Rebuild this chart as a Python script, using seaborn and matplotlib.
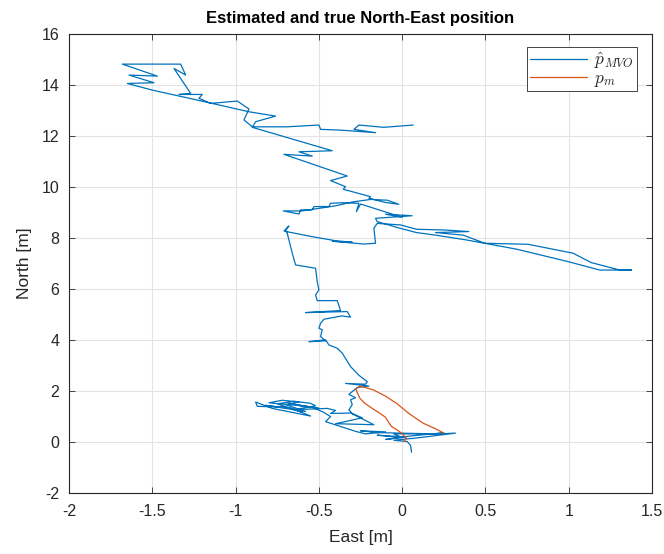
import numpy as np
import pandas as pd
import matplotlib
matplotlib.use("Agg")
import matplotlib.pyplot as plt
import seaborn as sns

# Estimated trajectory (p_hat_MVO): East / North in metres
est_east = [0.056, 0.05, 0.03, -0.05, 0.10, 0.32, 0.15, 0.25, 0.05, -0.10, 0.02, -0.15, 0.0, -0.05,
            0.20, -0.15, -0.25, -0.10, -0.22, -0.28,
            -0.43, -0.46, -0.43, -0.47, -0.54,
            -0.62, -0.50, -0.68, -0.60, -0.80, -0.72, -0.62, -0.70, -0.58, -0.82, -0.66, -0.55, -0.78,
            -0.88, -0.87, -0.70, -0.60, -0.75, -0.65, -0.55, -0.52, -0.65, -0.45, -0.40, -0.43,
            -0.31, -0.17, -0.40, -0.24, -0.30, -0.32, -0.30, -0.31, -0.28, -0.32, -0.27, -0.20, -0.34,
            -0.22, -0.21, -0.26, -0.31, -0.36, -0.39, -0.44, -0.46, -0.56, -0.46, -0.49, -0.48, -0.50,
            -0.49, -0.47, -0.36, -0.31, -0.33, -0.58, -0.37, -0.39, -0.51, -0.52, -0.50, -0.51, -0.52,
            -0.64, -0.66, -0.69, -0.70, -0.68, -0.71, -0.55, -0.40, -0.30, -0.42, -0.23, -0.16, -0.17,
            -0.15, -0.01, 0.086, 0.256, 0.40, 0.20, 0.366, 0.496, 0.756, 1.026, 1.136, 1.306, 1.376,
            1.186, 0.996, 0.686, 0.526, 0.386, 0.20, 0.086, -0.014, -0.15, -0.16, 0.06, -0.10, 0.0,
            -0.25, -0.275, -0.26, -0.36, -0.43, -0.44, -0.53, -0.54, -0.61, -0.62, -0.714, -0.60, -0.50,
            -0.40, -0.30, -0.19, -0.09, -0.02, -0.10, -0.20, -0.19, -0.354, -0.34, -0.43, -0.33, -0.71,
            -0.54, -0.62, -0.42, -0.90, -0.88, -0.76, -0.92, -1.21, -1.50, -1.65, -1.49, -1.64, -1.47,
            -1.68, -1.33, -1.30, -1.37, -1.27, -1.34, -1.20, -1.22, -1.15, -0.99, -0.92, -0.95, -0.90,
            -0.69, -0.50, -0.49, -0.37, -0.16, -0.29, -0.26, -0.11, 0.066]
est_north = [-0.42, -0.15, 0.0, 0.05, 0.15, 0.33, 0.28, 0.34, 0.22, 0.08, 0.18, 0.25, 0.15, 0.30,
             0.30, 0.35, 0.42, 0.38, 0.30, 0.40,
             0.72, 0.78, 0.98, 1.14, 1.35,
             1.42, 1.30, 1.50, 1.40, 1.52, 1.62, 1.55, 1.45, 1.18, 1.42, 1.30, 1.00, 1.30,
             1.55, 1.38, 1.35, 1.15, 1.48, 1.58, 1.50, 1.40, 1.25, 1.30, 1.22, 1.10,
             1.12, 0.66, 0.70, 0.93, 1.10, 1.24, 1.45, 1.64, 1.72, 1.85, 2.12, 2.18, 2.28,
             2.25, 2.35, 2.60, 2.94, 3.47, 3.66, 3.79, 3.99, 3.92, 3.95, 4.12, 4.38, 4.45,
             4.64, 4.80, 4.93, 4.88, 5.10, 5.06, 5.14, 5.53, 5.53, 5.75, 5.95, 6.27, 6.80,
             6.93, 7.39, 8.17, 8.30, 8.46, 8.26, 8.05, 7.88, 7.82, 7.86, 7.75, 7.78, 8.37,
             8.56, 8.50, 8.33, 8.30, 8.24, 8.20, 8.10, 7.78, 7.74, 7.39, 7.02, 6.73, 6.73,
             6.73, 7.06, 7.55, 7.74, 7.91, 8.10, 8.20, 8.37, 8.63, 8.76, 8.86, 8.92, 8.80,
             9.32, 9.02, 9.35, 9.37, 9.35, 9.22, 9.22, 9.09, 9.09, 8.93, 9.05, 9.05, 9.15,
             9.25, 9.40, 9.50, 9.47, 9.31, 9.38, 9.55, 9.61, 9.90, 10.00, 10.24, 10.42, 11.27,
             11.20, 11.37, 11.41, 12.33, 12.55, 12.77, 12.94, 13.37, 13.79, 14.05, 14.08, 14.38, 14.34,
             14.81, 14.81, 14.38, 14.64, 13.66, 13.62, 13.62, 13.47, 13.27, 13.36, 13.05, 12.62, 12.35,
             12.35, 12.42, 12.25, 12.22, 12.12, 12.25, 12.42, 12.33, 12.42]

# Measured / true positions (p_m)
true_east = [0.25, 0.20, 0.126, 0.04, -0.034, -0.10, -0.174, -0.254, -0.278, -0.265, -0.254,
             -0.224, -0.18, -0.134, -0.10, -0.078, -0.064, -0.03, -0.004, 0.026, 0.01]
true_north = [0.33, 0.50, 0.72, 1.10, 1.50, 1.78, 2.03, 2.18, 2.05, 1.85, 1.70,
              1.50, 1.30, 1.11, 0.95, 0.72, 0.59, 0.45, 0.33, 0.13, 0.0]

x_ticks = [-2, -1.5, -1, -0.5, 0, 0.5, 1, 1.5]
x_tick_labels = ["-2", "-1.5", "-1", "-0.5", "0", "0.5", "1", "1.5"]
y_ticks = [-2, 0, 2, 4, 6, 8, 10, 12, 14, 16]
y_tick_labels = ["-2", "0", "2", "4", "6", "8", "10", "12", "14", "16"]

sns.set_style("whitegrid")
plt.rcParams['font.family'] = ['Liberation Sans', 'DejaVu Sans']
plt.rcParams['mathtext.fontset'] = 'cm'

est_df = pd.DataFrame({"East": est_east, "North": est_north})
true_df = pd.DataFrame({"East": true_east, "North": true_north})

fig = plt.figure(figsize=(6.64, 5.54), dpi=100)
ax = fig.add_axes([0.104, 0.111, 0.878, 0.828])

blue = "#0072BD"
red = "#D95319"
sns.lineplot(data=est_df, x="East", y="North", sort=False, estimator=None,
             color=blue, linewidth=0.9, ax=ax, label=r"$\hat{p}_{MVO}$")
sns.lineplot(data=true_df, x="East", y="North", sort=False, estimator=None,
             color=red, linewidth=0.9, ax=ax, label=r"$p_m$")

ax.set_xlim(-2, 1.5)
ax.set_ylim(-2, 16)
ax.set_xticks(x_ticks)
ax.set_xticklabels(x_tick_labels)
ax.set_yticks(y_ticks)
ax.set_yticklabels(y_tick_labels)
ax.grid(True, color="#e3e3e3", linewidth=0.8)
ax.set_axisbelow(True)
for s in ax.spines.values():
    s.set_visible(True)
    s.set_color("#262626")
    s.set_linewidth(0.8)
ax.tick_params(direction="in", length=4, width=0.6, colors="#262626",
               labelsize=11.5, top=True, right=True, bottom=True, left=True,
               labelcolor="#262626")
ax.tick_params(axis="x", pad=8)
ax.tick_params(axis="y", pad=7)
ax.set_xlabel("East [m]", fontsize=12.5, color="#262626", labelpad=8)
ax.set_ylabel("North [m]", fontsize=12.5, color="#262626", labelpad=7)
ax.set_title("Estimated and true North-East position", fontsize=12, fontweight="bold",
             color="black", pad=8)

leg = ax.legend(loc="upper right", bbox_to_anchor=(0.974, 0.971), borderaxespad=0,
                fontsize=12.5, frameon=True, fancybox=False, framealpha=1,
                edgecolor="#262626", handlelength=3.3, borderpad=0.15,
                labelspacing=0.0, handletextpad=0.4)
leg.get_frame().set_linewidth(0.6)

fig.savefig("out.png", dpi=100)
